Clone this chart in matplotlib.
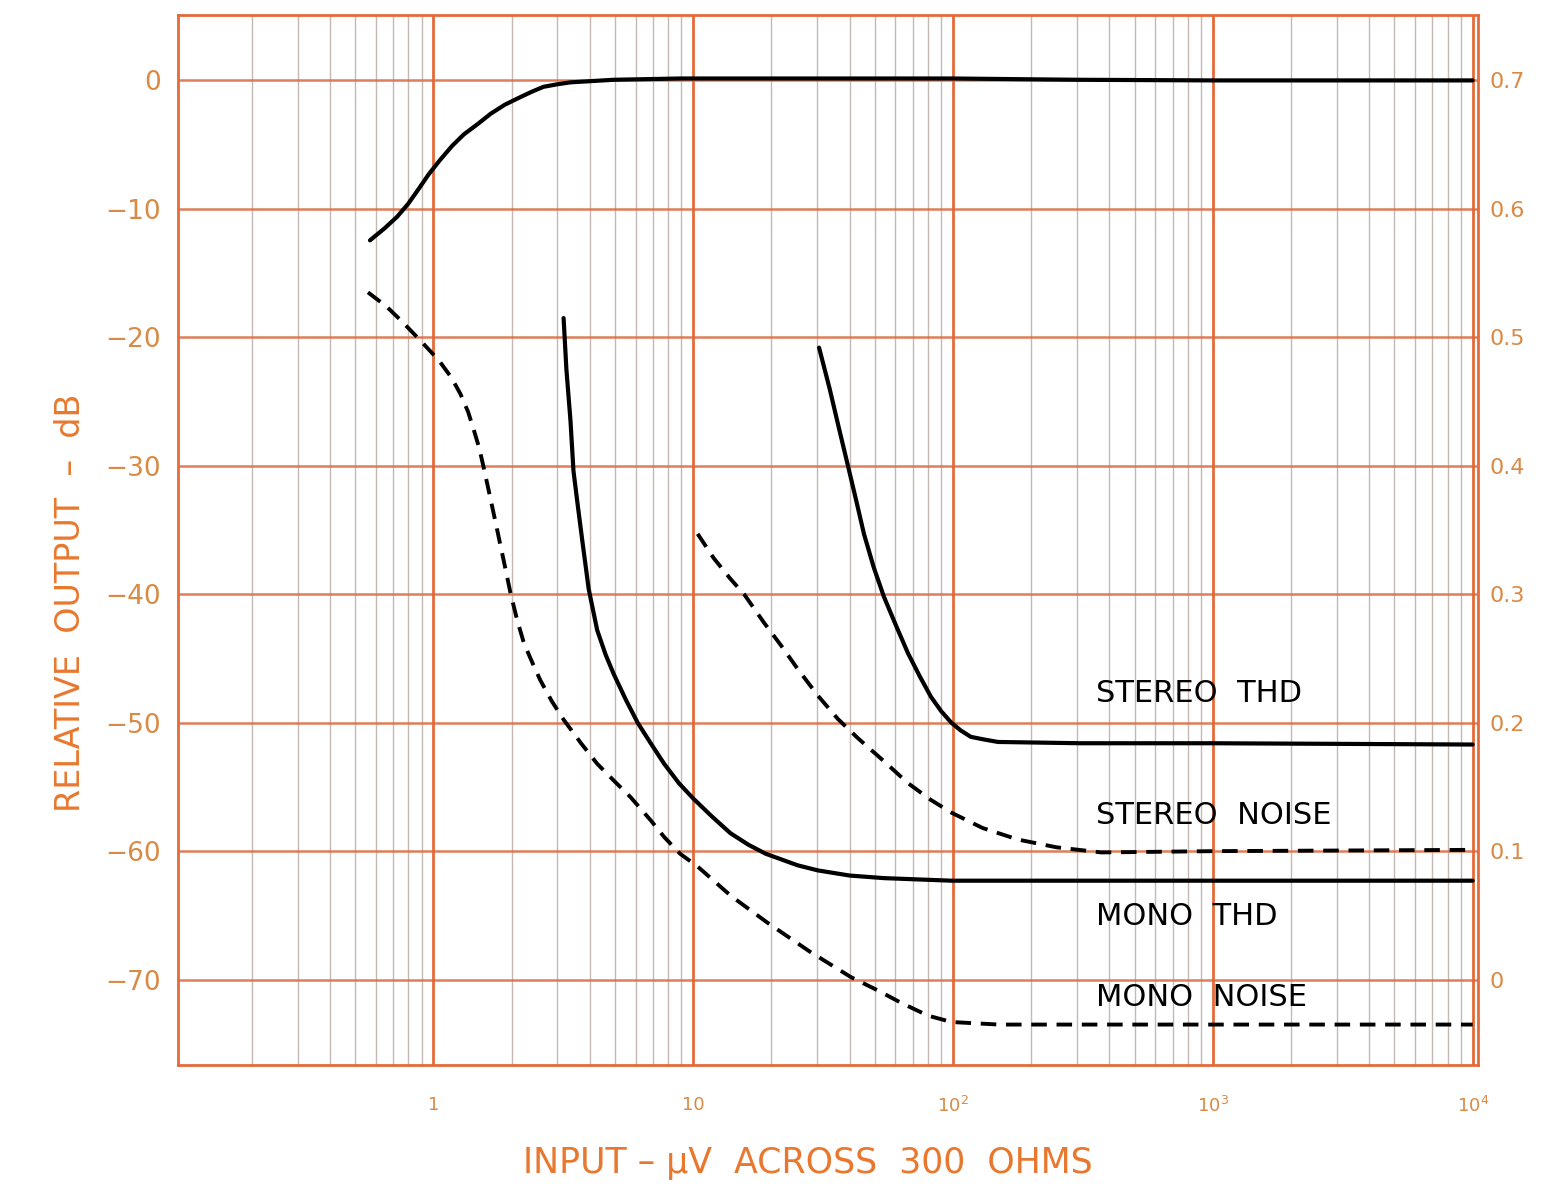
import numpy as np
import matplotlib
matplotlib.use('agg')
import matplotlib.pyplot as plt
from matplotlib.ticker import FixedLocator, NullFormatter

## Data (input in uV, output in dB)
out_x = [0.57, 0.65, 0.726, 0.8, 0.867, 0.96, 1.06, 1.18, 1.31, 1.48, 1.66, 1.88, 2.11, 2.38, 2.65,
         3.0, 3.37, 4.94, 8.94, 100, 300, 1000, 10000]
out_y = [-12.45, -11.5, -10.6, -9.6, -8.6, -7.3, -6.2, -5.1, -4.2, -3.4, -2.6, -1.9, -1.4, -0.9, -0.5,
         -0.3, -0.15, 0.05, 0.15, 0.15, 0.05, 0.0, 0.0]

mono_noise_x = [0.56, 0.66, 0.76, 0.915, 1.05, 1.17, 1.27, 1.36, 1.43, 1.5, 1.56, 1.66, 1.76, 1.87, 1.98,
                2.1, 2.23, 2.4, 2.58, 2.85, 3.18, 3.7, 4.27, 5.0, 5.74, 6.86, 7.73, 8.9, 10.4, 14, 19.4,
                28, 40.4, 52, 63, 80, 98.5, 150, 10000]
mono_noise_y = [-16.5, -17.6, -18.8, -20.5, -21.8, -23.1, -24.4, -25.8, -27.2, -28.6, -30.1, -32.6, -35.0,
                -37.5, -39.9, -42.0, -43.8, -45.3, -46.7, -48.3, -49.8, -51.6, -53.2, -54.6, -55.8, -57.6,
                -58.9, -60.2, -61.2, -63.5, -65.6, -67.8, -69.8, -70.9, -71.8, -72.8, -73.3, -73.5, -73.5]

mono_thd_x = [3.17, 3.25, 3.37, 3.46, 3.6, 3.74, 3.96, 4.27, 4.6, 4.94, 5.5, 6.11, 6.86, 7.73, 8.8, 10.0,
              11.8, 13.9, 16.3, 19.0, 25.2, 30.2, 40, 54.2, 98.5, 10000]
mono_thd_y = [-18.5, -22.5, -26.5, -30.4, -33.2, -35.8, -39.6, -42.8, -44.7, -46.2, -48.2, -50.0, -51.6,
              -53.2, -54.7, -55.9, -57.3, -58.6, -59.5, -60.2, -61.1, -61.5, -61.9, -62.1, -62.3, -62.3]

stereo_noise_x = [10.4, 12, 13.9, 15.7, 18.7, 21.8, 25.2, 30.2, 36, 43, 54.2, 67, 82, 98.5, 130, 178, 250,
                  372, 1000, 10000]
stereo_noise_y = [-35.3, -37.2, -38.8, -40.0, -42.2, -44.0, -45.8, -47.9, -49.7, -51.2, -53.0, -54.7, -56.0,
                  -57.0, -58.2, -59.1, -59.7, -60.1, -60.0, -59.9]

stereo_thd_x = [30.5, 33.5, 36.5, 39.4, 42.5, 45.4, 49.5, 54.2, 60.5, 67.1, 74.5, 82.3, 90, 98.5, 107, 117,
                131, 149, 311, 1000, 10000]
stereo_thd_y = [-20.8, -24.0, -27.2, -30.0, -32.8, -35.3, -37.9, -40.2, -42.5, -44.6, -46.4, -48.0, -49.1,
                -50.0, -50.6, -51.1, -51.3, -51.5, -51.6, -51.6, -51.7]

labels = ['STEREO  THD', 'STEREO  NOISE', 'MONO  THD', 'MONO  NOISE']
label_y = [-47.7, -57.2, -65.1, -71.4]
label_x = 356

y_ticks = [0, -10, -20, -30, -40, -50, -60, -70]
right_labels = ['0.7', '0.6', '0.5', '0.4', '0.3', '0.2', '0.1', '0']
x_ticks = [1, 10, 100, 1000, 10000]
x_labels = ['1', '10', '10$^2$', '10$^3$', '10$^4$']

orange = '#e8782e'
tick_col = '#d98a45'
grid_major = '#e56a3a'
grid_minor = '#b8a8a0'

fig = plt.figure(figsize=(15.56, 11.86), dpi=100)
ax = fig.add_axes([0.1144, 0.102, 0.8356, 0.885])
ax.set_xscale('log')
ax.set_xlim(0.104, 10500)
ax.set_ylim(-76.65, 5.06)

# grid
minors = [m * 10.0**d for d in range(-1, 4) for m in range(2, 10)]
ax.xaxis.set_minor_locator(FixedLocator(minors))
ax.xaxis.set_minor_formatter(NullFormatter())
ax.set_xticks(x_ticks)
ax.set_xticklabels(x_labels)
ax.set_yticks(y_ticks)
ax.set_yticklabels([str(v).replace('-', '−') for v in y_ticks])
ax.grid(True, which='minor', axis='x', color=grid_minor, lw=1.0, alpha=0.8)
ax.grid(True, which='major', axis='x', color=grid_major, lw=2.0)
ax.grid(True, which='major', axis='y', color='#d9683e', lw=1.8, alpha=0.85)
ax.set_axisbelow(True)
for s in ax.spines.values():
    s.set_color(grid_major)
    s.set_linewidth(2)
ax.tick_params(which='both', length=0)
ax.tick_params(axis='y', labelsize=19, labelcolor=tick_col, pad=12)
ax.tick_params(axis='x', labelsize=13, labelcolor=tick_col, pad=22)

# right-hand scale
ax2 = ax.twinx()
ax2.set_ylim(ax.get_ylim())
ax2.set_yticks(y_ticks)
ax2.set_yticklabels(right_labels)
ax2.tick_params(length=0, labelsize=16, labelcolor=tick_col, pad=8)
for s in ax2.spines.values():
    s.set_visible(False)

# curves
kw = dict(color='black', solid_joinstyle='round', solid_capstyle='round')
ax.plot(out_x, out_y, lw=3, **kw)
ax.plot(mono_noise_x, mono_noise_y, lw=2.8, dashes=(4, 2.5), **kw)
ax.plot(mono_thd_x, mono_thd_y, lw=3, **kw)
ax.plot(stereo_noise_x, stereo_noise_y, lw=2.8, dashes=(4, 2.5), **kw)
ax.plot(stereo_thd_x, stereo_thd_y, lw=3, **kw)

for t, yy in zip(labels, label_y):
    ax.text(label_x, yy, t, fontsize=22, color='black', va='center', ha='left')

# axis titles (placed off-centre as in the original)
fig.text(0.045, 0.492, 'RELATIVE  OUTPUT  –  dB', rotation=90, fontsize=24, color=orange,
         ha='center', va='center')
fig.text(0.519, 0.019, 'INPUT – μV  ACROSS  300  OHMS', fontsize=25, color=orange,
         ha='center', va='center')

plt.savefig('out.png', dpi=100)
